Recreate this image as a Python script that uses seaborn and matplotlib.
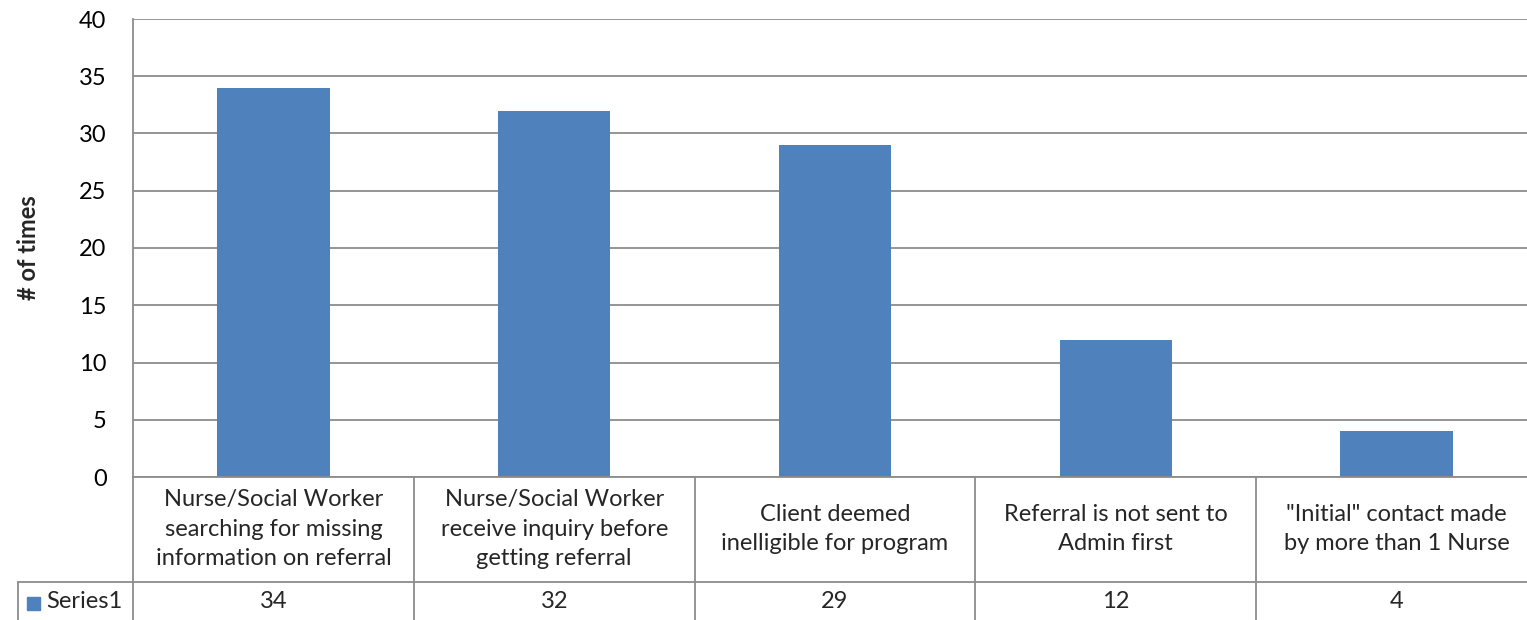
import matplotlib
matplotlib.use("Agg")
import matplotlib.pyplot as plt
import matplotlib.transforms as mtransforms
from matplotlib.patches import Rectangle
import seaborn as sns
import pandas as pd

categories = [
    "Nurse/Social Worker\nsearching for missing\ninformation on referral",
    "Nurse/Social Worker\nreceive inquiry before\ngetting referral",
    "Client deemed\ninelligible for program",
    "Referral is not sent to\nAdmin first",
    "\"Initial\" contact made\nby more than 1 Nurse",
]
values = [34, 32, 29, 12, 4]
series_name = "Series1"
y_label = "# of times"
y_ticks = [0, 5, 10, 15, 20, 25, 30, 35, 40]

sns.set_theme(style="white")
plt.rcParams["font.family"] = ["Lato", "DejaVu Sans"]

FS = 17
BAR = "#4F81BD"
GRID = "#8C8C8C"
W, H = 1527, 620
fig = plt.figure(figsize=(W / 100, H / 100), dpi=100)
left_px, right_px, top_px, bot_px = 133, 1537, 19, 477
ax = fig.add_axes([left_px / W, 1 - bot_px / H, (right_px - left_px) / W, (bot_px - top_px) / H])

df = pd.DataFrame({"cat": range(len(values)), "val": values})
sns.barplot(data=df, x="cat", y="val", color=BAR, width=0.4, ax=ax, saturation=1, edgecolor="none")
ax.set_xlim(-0.5, len(values) - 0.5)
ax.set_ylim(0, 40)
ax.set_yticks(y_ticks)
ax.set_yticklabels([str(t) for t in y_ticks], fontsize=FS, color="#000000")
ax.tick_params(axis="y", length=0, pad=19)
ax.set_xticks([])
ax.set_xlabel("")
ax.set_ylabel("")
ax.yaxis.grid(True, color=GRID, linewidth=1.3)
ax.set_axisbelow(True)
for s in ["top", "right"]:
    ax.spines[s].set_visible(False)
ax.spines["left"].set_color(GRID)
ax.spines["left"].set_linewidth(1.3)
ax.spines["bottom"].set_color(GRID)
ax.spines["bottom"].set_linewidth(1.3)

fig.text(28 / W, 1 - 248 / H, y_label, rotation=90, ha="center", va="center",
         fontsize=FS, fontweight="bold")

trans = mtransforms.blended_transform_factory(ax.transData, ax.transAxes)
ph = bot_px - top_px
y_mid = (bot_px - 582) / ph
y_end = (bot_px - 625) / ph
fig.add_artist(plt.Line2D([18 / W, 1.01], [1 - 582 / H] * 2, color=GRID, lw=1.3))
fig.add_artist(plt.Line2D([18 / W] * 2, [1 - 582 / H, 0], color=GRID, lw=1.3))
fig.add_artist(plt.Line2D([133 / W] * 2, [1 - 477 / H, 0], color=GRID, lw=1.3))
for i in range(len(values)):
    ax.plot([i + 0.5, i + 0.5], [0, y_end], color=GRID, lw=1.3, transform=trans, clip_on=False)
    ax.text(i, (bot_px - 529) / ph, categories[i], transform=trans, ha="center", va="center",
            fontsize=FS, linespacing=1.5)
    ax.text(i, (bot_px - 602) / ph, str(values[i]), transform=trans, ha="center", va="center",
            fontsize=FS)

fig.add_artist(Rectangle((27 / W, 1 - 610 / H), 13 / W, 13 / H, color=BAR, transform=fig.transFigure))
fig.text(46 / W, 1 - 602 / H, series_name, ha="left", va="center", fontsize=FS)

fig.savefig("out.png", dpi=100)
